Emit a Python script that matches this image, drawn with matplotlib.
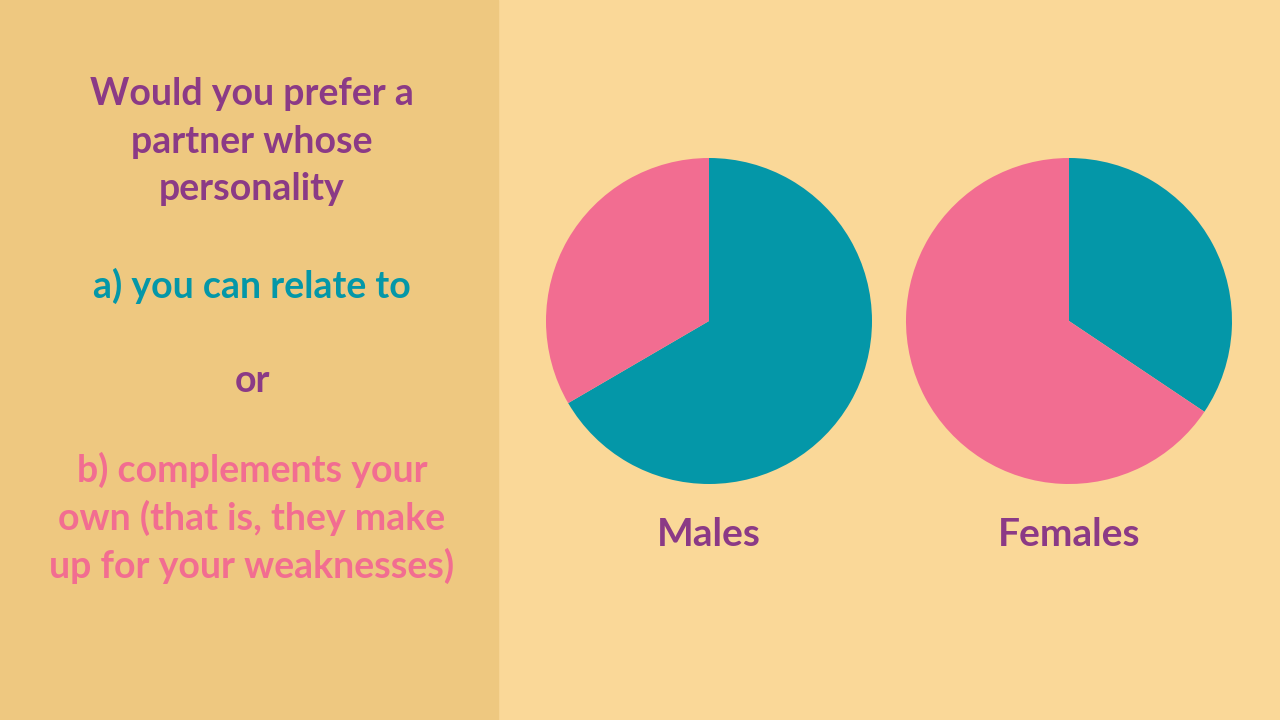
import matplotlib
matplotlib.use("Agg")
import matplotlib.pyplot as plt

groups = ["Males", "Females"]
relate = [66.6, 34.4]
complement = [33.4, 65.6]

TEAL = "#0497A8"; PINK = "#F26D91"; PURPLE = "#8B3A86"
plt.rcParams['font.family'] = ['Lato', 'DejaVu Sans']

fig = plt.figure(figsize=(12.8, 7.2), dpi=100)
fig.patch.set_facecolor("#FAD898")
fig.patches.append(plt.Rectangle((0, 0), 498/1280, 1, transform=fig.transFigure,
                                 color="#EEC880", zorder=0))

cx = 252/1280
fs = 27
fig.text(cx, 1-94/720, "Would you prefer a", ha="center", va="center", color=PURPLE, fontsize=fs, weight="bold")
fig.text(cx, 1-142/720, "partner whose", ha="center", va="center", color=PURPLE, fontsize=fs, weight="bold")
fig.text(cx, 1-189/720, "personality", ha="center", va="center", color=PURPLE, fontsize=fs, weight="bold")
fig.text(cx, 1-286/720, "a) you can relate to", ha="center", va="center", color=TEAL, fontsize=fs, weight="bold")
fig.text(cx, 1-381/720, "or", ha="center", va="center", color=PURPLE, fontsize=fs, weight="bold")
fig.text(cx, 1-470/720, "b) complements your", ha="center", va="center", color=PINK, fontsize=fs, weight="bold")
fig.text(cx, 1-518/720, "own (that is, they make", ha="center", va="center", color=PINK, fontsize=fs, weight="bold")
fig.text(cx, 1-566/720, "up for your weaknesses)", ha="center", va="center", color=PINK, fontsize=fs, weight="bold")

centers = [709, 1069]
r = 163
for g, a, b, c in zip(groups, relate, complement, centers):
    ax = fig.add_axes([(c-r)/1280, 1-(321+r)/720, 2*r/1280, 2*r/720])
    ax.pie([a, b], colors=[TEAL, PINK], startangle=90, counterclock=False,
           wedgeprops=dict(linewidth=0))
    ax.set_aspect("auto")
    ax.set_xlim(-1, 1); ax.set_ylim(-1, 1)
    ax.axis("off")
    fig.text(c/1280, 1-535/720, g, ha="center", va="center", color=PURPLE, fontsize=28, weight="bold")

fig.savefig("out.png", dpi=100, facecolor=fig.get_facecolor())
